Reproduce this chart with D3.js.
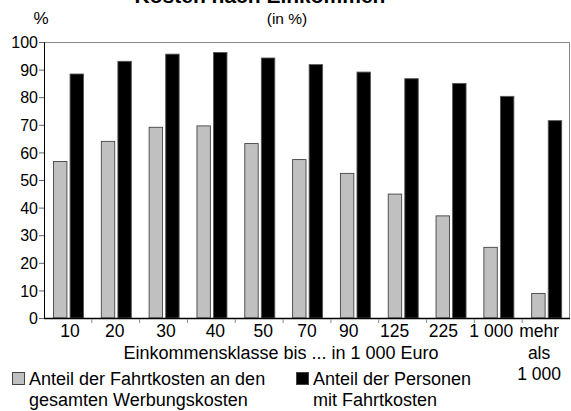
<!DOCTYPE html>
<html><head><meta charset="utf-8">
<script src="https://cdn.jsdelivr.net/npm/d3@7/dist/d3.min.js"></script>
<style>
html,body{margin:0;padding:0;background:#fff;}
svg{display:block;font-family:"Liberation Sans",Arial,Helvetica,sans-serif;}
</style></head>
<body><svg id="c" width="571" height="411"></svg>
<script>
const categories = ["10","20","30","40","50","70","90","125","225","1 000","mehr als 1 000"];
const categoryLines = [["10"],["20"],["30"],["40"],["50"],["70"],["90"],["125"],["225"],["1 000"],["mehr","als","1 000"]];
const anteilFahrtkosten = [56.7,64.0,69.1,69.6,63.2,57.4,52.4,44.9,37.0,25.6,8.9];
const anteilPersonen = [88.4,93.0,95.6,96.2,94.2,91.8,89.1,86.7,85.0,80.3,71.5];
const yTicks = [0,10,20,30,40,50,60,70,80,90,100];
const seriesNames = [["Anteil der Fahrtkosten an den","gesamten Werbungskosten"],["Anteil der Personen","mit Fahrtkosten"]];
const labelDx = [2,-1,2.5,4,4,0,-6,-8,-7,-7,-7];

const svg = d3.select("#c");
const L=44, R=570, T=42, B=318;
const x0 = d3.scaleBand().domain(categories).range([L,R]).padding(0);
const x1 = d3.scaleBand().domain(["g","b"]).range([9.5,39.5]).paddingInner(0.19);
const y = d3.scaleLinear().domain([0,100]).range([B,T]);

// frame
svg.append("line").attr("x1",L).attr("x2",R).attr("y1",T+0.5).attr("y2",T+0.5).attr("stroke","#888").attr("stroke-width",1);
svg.append("line").attr("x1",R-0.5).attr("x2",R-0.5).attr("y1",T).attr("y2",B).attr("stroke","#888").attr("stroke-width",1);

// bars
const g = svg.append("g");
categories.forEach((c,i)=>{
  g.append("rect").attr("x",x0(c)+x1("g")).attr("width",x1.bandwidth())
    .attr("y",y(anteilFahrtkosten[i])).attr("height",B-y(anteilFahrtkosten[i]))
    .attr("fill","#c0c0c0").attr("stroke","#444").attr("stroke-width",0.9);
  g.append("rect").attr("x",x0(c)+x1("b")).attr("width",x1.bandwidth())
    .attr("y",y(anteilPersonen[i])).attr("height",B-y(anteilPersonen[i]))
    .attr("fill","#000").attr("stroke","#555").attr("stroke-width",0.9);
});

// y axis
const ya = svg.append("g").attr("transform",`translate(${L},0)`)
  .call(d3.axisLeft(y).tickValues(yTicks).tickSize(5).tickPadding(1));
ya.select(".domain").attr("stroke","#000");
ya.selectAll(".tick line").attr("stroke","#666");
ya.selectAll("text").attr("font-size","16px").attr("fill","#000").attr("font-family","Liberation Sans, Arial, sans-serif").attr("dy","0.36em");

// x axis line
svg.append("line").attr("x1",L).attr("x2",R).attr("y1",B+0.5).attr("y2",B+0.5).attr("stroke","#000").attr("stroke-width",1.6);
// x ticks between categories
categories.slice(1).forEach(c=>{
  svg.append("line").attr("x1",x0(c)).attr("x2",x0(c)).attr("y1",B+1).attr("y2",B+5).attr("stroke","#888");
});
// x labels
categories.forEach((c,i)=>{
  const t = svg.append("text").attr("text-anchor","middle").attr("font-size","17.5px")
    .attr("x",x0(c)+x0.bandwidth()/2+labelDx[i]).attr("y",337);
  categoryLines[i].forEach((ln,j)=>{
    t.append("tspan").attr("x",x0(c)+x0.bandwidth()/2+labelDx[i]).attr("y",337+j*21.5).text(ln);
  });
});
svg.append("text").attr("x",281).attr("y",358.5).attr("text-anchor","middle").attr("font-size","18px").text("Einkommensklasse bis ... in 1 000 Euro");

// titles
svg.append("text").attr("x",260).attr("y",3).attr("text-anchor","middle").attr("font-size","21px").attr("font-weight","bold").text("Kosten nach Einkommen");
svg.append("text").attr("x",287).attr("y",24).attr("text-anchor","middle").attr("font-size","15.5px").text("(in %)");
svg.append("text").attr("x",41).attr("y",24).attr("text-anchor","middle").attr("font-size","17px").text("%");

// legend
const legX=[12,296], fills=["#c0c0c0","#000"];
seriesNames.forEach((n,i)=>{
  svg.append("rect").attr("x",legX[i]+0.5).attr("y",372.5).attr("width",12).attr("height",12)
    .attr("fill",fills[i]).attr("stroke","#444").attr("stroke-width",1);
  n.forEach((ln,j)=>{
    svg.append("text").attr("x",legX[i]+17).attr("y",384.5+j*21.5).attr("font-size","18px").text(ln);
  });
});
</script></body></html>
